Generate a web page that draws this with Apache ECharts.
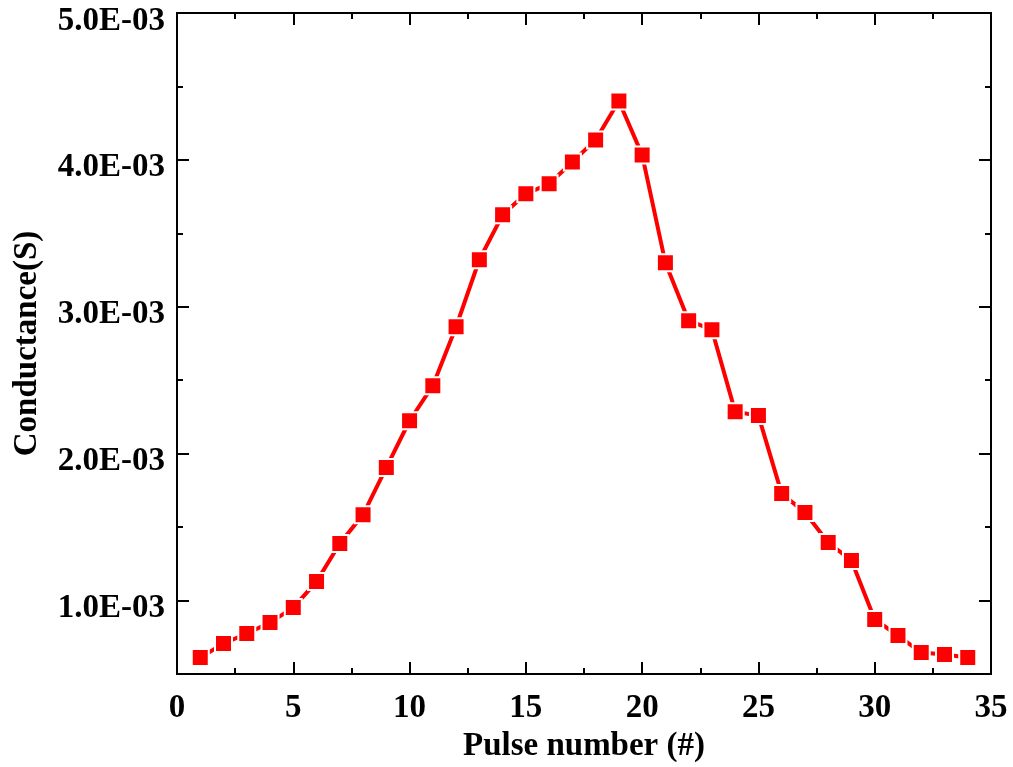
<!DOCTYPE html>
<html>
<head>
<meta charset="utf-8">
<title>Conductance vs pulse number</title>
<script src="https://cdn.jsdelivr.net/npm/echarts@6/dist/echarts.min.js"></script>
<style>
    html, body { margin: 0; padding: 0; background: #fff; }
    #chart { width: 1013px; height: 767px; }
</style>
</head>
<body>
<div id="chart"></div>
<script>
// pulse index and measured conductance (S)
const pulses = [1, 2, 3, 4, 5, 6, 7, 8, 9, 10, 11, 12, 13, 14, 15, 16, 17,
    18, 19, 20, 21, 22, 23, 24, 25, 26, 27, 28, 29, 30, 31, 32, 33, 34];
const conductance = [
    0.000612, 0.000707, 0.000776, 0.000850, 0.000952, 0.001129, 0.001388,
    0.001585, 0.001905, 0.002224, 0.002463, 0.002864, 0.003320, 0.003626,
    0.003769, 0.003837, 0.003986, 0.004136, 0.004401, 0.004034, 0.003299,
    0.002905, 0.002844, 0.002286, 0.002259, 0.001728, 0.001599, 0.001395,
    0.001272, 0.000871, 0.000762, 0.000646, 0.000633, 0.000612
];
const yMajor = [0.001, 0.002, 0.003, 0.004, 0.005];
const yMinor = [0.0015, 0.0025, 0.0035, 0.0045];

const FONT = '"Liberation Serif", "Times New Roman", serif';
const myChart = echarts.init(document.getElementById('chart'));

// "5.0E-03" style labels
const sciLabel = v => {
    const parts = v.toExponential(1).split('e');
    const exp = parseInt(parts[1], 10);
    const sign = exp < 0 ? '-' : '+';
    const digits = String(Math.abs(exp)).padStart(2, '0');
    return parts[0] + 'E' + sign + digits;
};

const lineStyle = { color: '#000', width: 2 };
const titleStyle = { fontFamily: FONT, fontWeight: 'bold', fontSize: 33, color: '#000' };

const xBase = {
    type: 'value',
    min: 0,
    max: 35,
    interval: 5,
    axisLine: { onZero: false, lineStyle: lineStyle },
    axisTick: { inside: true, length: 12, lineStyle: lineStyle },
    minorTick: { show: true, splitNumber: 2, length: 6, lineStyle: lineStyle },
    splitLine: { show: false }
};

const yBase = {
    type: 'value',
    min: 0.0005,
    max: 0.005,
    offset: 0,
    splitLine: { show: false },
    axisLine: { onZero: false, lineStyle: lineStyle }
};

const option = {
    backgroundColor: '#fff',
    animation: false,
    grid: {
        left: 177, right: 22, top: 13, bottom: 93,
        containLabel: false,
        outerBoundsMode: 'none'
    },
    xAxis: [
        Object.assign({}, xBase, {
            position: 'bottom',
            name: 'Pulse number (#)',
            nameLocation: 'middle',
            nameGap: 50,
            nameTextStyle: titleStyle,
            axisLabel: { margin: 18, fontFamily: FONT, fontWeight: 'bold', fontSize: 33, color: '#000' }
        }),
        Object.assign({}, xBase, {
            position: 'top',
            axisLabel: { show: false }
        })
    ],
    yAxis: [
        Object.assign({}, yBase, {
            position: 'left',
            name: 'Conductance(S)',
            nameLocation: 'middle',
            nameGap: 133,
            nameTextStyle: titleStyle,
            axisTick: { inside: true, length: 12, customValues: yMajor, lineStyle: lineStyle },
            axisLabel: {
                margin: 12, customValues: yMajor, formatter: sciLabel,
                verticalAlign: 'top', lineHeight: 16,
                fontFamily: FONT, fontWeight: 'bold', fontSize: 33, color: '#000'
            }
        }),
        Object.assign({}, yBase, {
            position: 'left',
            axisTick: { inside: true, length: 6, customValues: yMinor, lineStyle: lineStyle },
            axisLabel: { show: false }
        }),
        Object.assign({}, yBase, {
            position: 'right',
            axisTick: { inside: true, length: 12, customValues: yMajor, lineStyle: lineStyle },
            axisLabel: { show: false }
        }),
        Object.assign({}, yBase, {
            position: 'right',
            axisTick: { inside: true, length: 6, customValues: yMinor, lineStyle: lineStyle },
            axisLabel: { show: false }
        })
    ],
    series: [
        {
            type: 'line',
            xAxisIndex: 0,
            yAxisIndex: 0,
            data: pulses.map((p, i) => [p, conductance[i]]),
            symbol: 'rect',
            symbolSize: 17,
            lineStyle: { color: '#ff0000', width: 4 },
            itemStyle: { color: '#ff0000', borderColor: '#fff', borderWidth: 2 }
        }
    ]
};

myChart.setOption(option);
</script>
</body>
</html>
